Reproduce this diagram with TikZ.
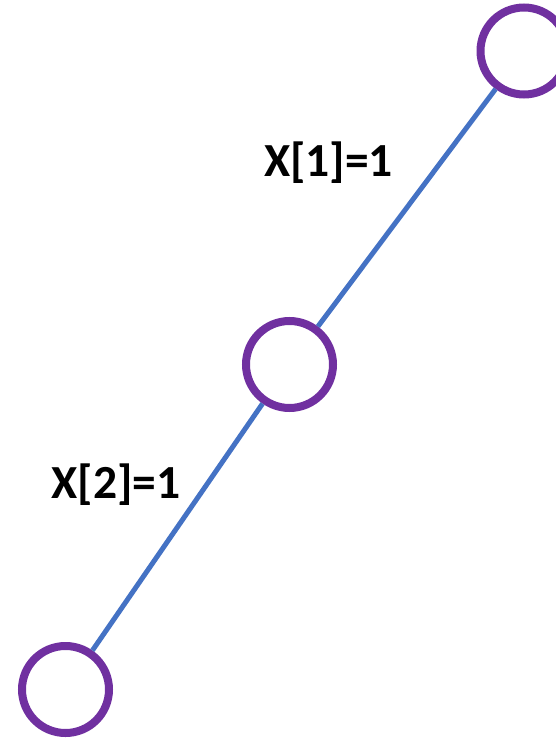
\documentclass[tikz,border=0pt]{standalone}
\usepackage{fontspec}
\setmainfont{Carlito}
\usepackage{xcolor}
\usetikzlibrary{positioning}
\definecolor{treepurple}{HTML}{7030A0}
\definecolor{treeblue}{HTML}{4472C4}

\begin{document}
\begin{tikzpicture}[
  x=1pt, y=-1pt,
  vertex/.style={circle, draw=treepurple, line width=8pt, fill=white, minimum size=87pt, inner sep=0pt},
  edge/.style={draw=treeblue, line width=5pt},
  lbl/.style={font=\fontsize{47.5}{52}\selectfont\bfseries, inner sep=0pt}
]
\useasboundingbox (0,0) rectangle (556,738);
\node[vertex] (top) at (524,51) {};
\node[vertex] (mid) at (289.5,364.5) {};
\node[vertex] (bot) at (65.5,689.5) {};
\draw[edge] (top) -- (mid);
\draw[edge] (mid) -- (bot);
\node[lbl] (lone) at (328.5,163) {X[1]=1};
\node[lbl] (ltwo) at (116,485) {X[2]=1};
\end{tikzpicture}
\end{document}
